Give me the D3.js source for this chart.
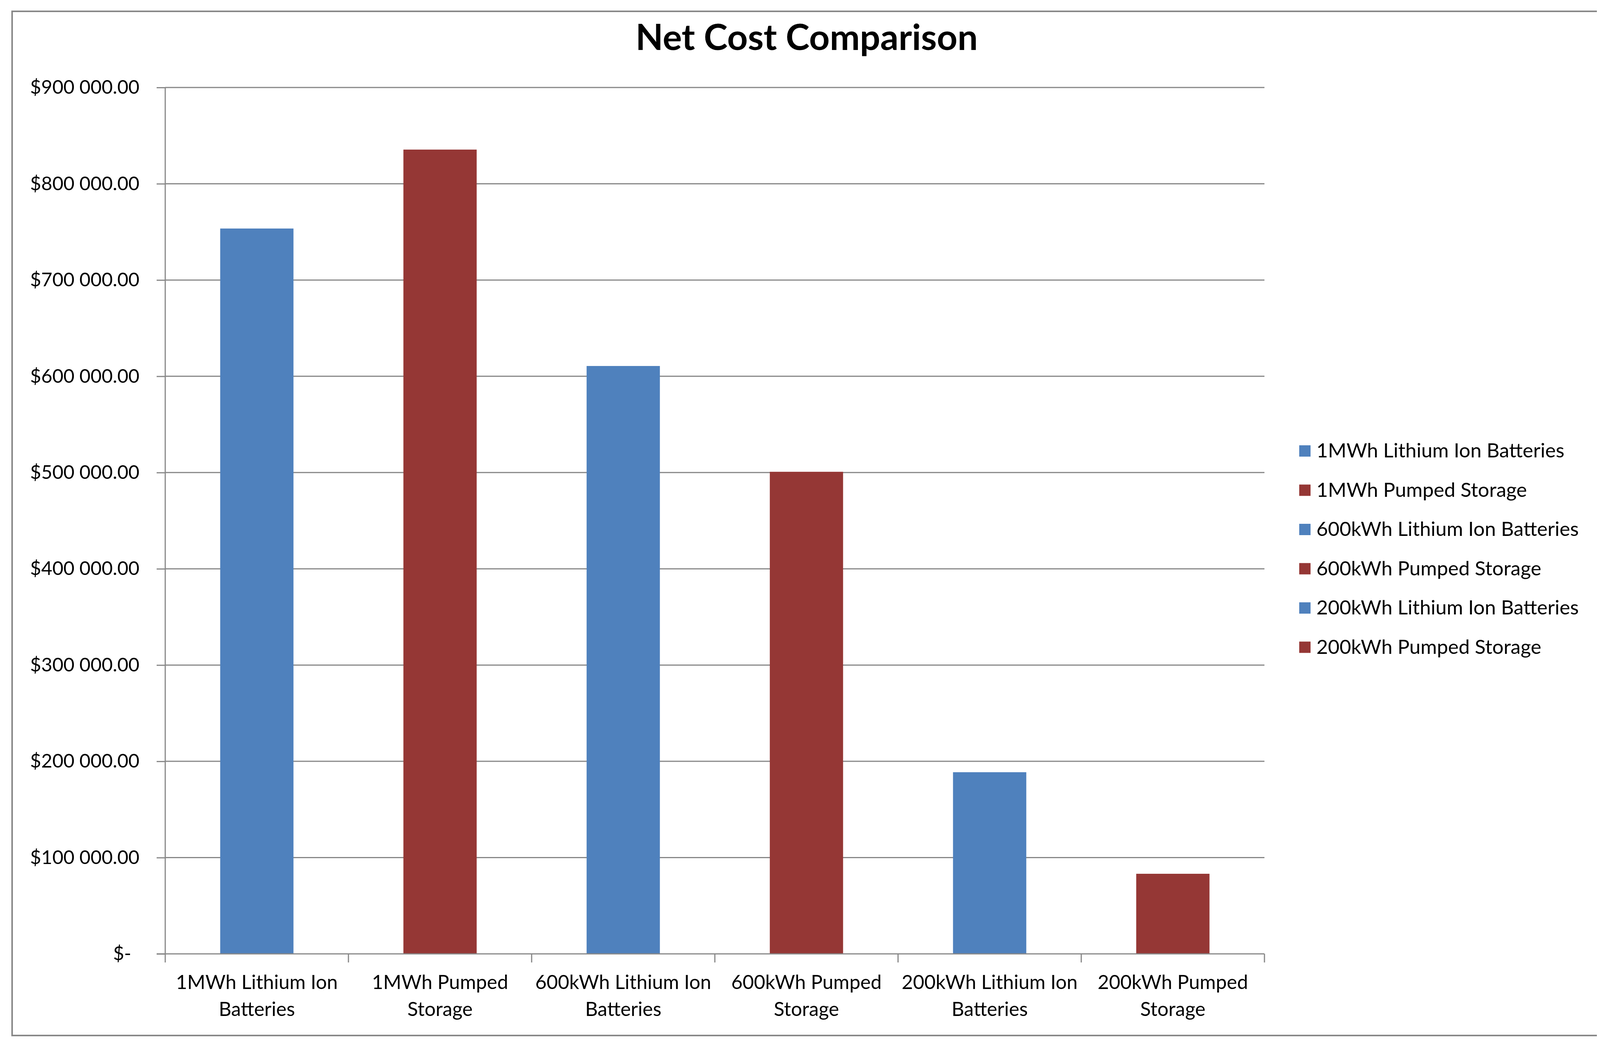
<!DOCTYPE html>
<html>
<head>
<meta charset="utf-8">
<script src="https://cdn.jsdelivr.net/npm/d3@7"></script>
<style>
  html, body { margin: 0; padding: 0; background: #fff; }
  svg { display: block; }
  text { font-family: Lato, "Open Sans", sans-serif; fill: #000; }
</style>
</head>
<body>
<script>
// ---- data ----
const categories = [
  "1MWh Lithium Ion Batteries",
  "1MWh Pumped Storage",
  "600kWh Lithium Ion Batteries",
  "600kWh Pumped Storage",
  "200kWh Lithium Ion Batteries",
  "200kWh Pumped Storage"
];
const categoryLines = [
  ["1MWh Lithium Ion", "Batteries"],
  ["1MWh Pumped", "Storage"],
  ["600kWh Lithium Ion", "Batteries"],
  ["600kWh Pumped", "Storage"],
  ["200kWh Lithium Ion", "Batteries"],
  ["200kWh Pumped", "Storage"]
];
const values = [753500, 835500, 610700, 500800, 188700, 83200];
const seriesType = ["li", "ps", "li", "ps", "li", "ps"];
const yTicks = [0, 100000, 200000, 300000, 400000, 500000, 600000, 700000, 800000, 900000];
const yTickLabels = ["$-", "$100 000.00", "$200 000.00", "$300 000.00", "$400 000.00",
  "$500 000.00", "$600 000.00", "$700 000.00", "$800 000.00", "$900 000.00"];
const colors = { li: "#4F81BD", ps: "#953735" };
const title = "Net Cost Comparison";

// ---- layout ----
const W = 4115, H = 2683;
const plot = { left: 423, right: 3237, top: 224, bottom: 2442 };

const svg = d3.select("body").append("svg")
  .attr("width", W).attr("height", H);

svg.append("rect").attr("width", W).attr("height", H).attr("fill", "#fff");

// outer frame (left, top, bottom)
const frame = svg.append("g").attr("stroke", "#888").attr("stroke-width", 4).attr("fill", "none");
frame.append("path").attr("d", `M4088,29 H31 V2651 H4088`);

// title
svg.append("text")
  .attr("x", 2065).attr("y", 128)
  .attr("text-anchor", "middle")
  .attr("font-weight", "bold")
  .attr("font-size", 92)
  .text(title);

const x = d3.scaleBand().domain(categories).range([plot.left, plot.right]).padding(0);
const barW = x.bandwidth() / 2.5;
const y = d3.scaleLinear().domain([0, 900000]).range([plot.bottom, plot.top]);

// gridlines
svg.append("g")
  .selectAll("line").data(yTicks.filter(d => d > 0)).join("line")
  .attr("x1", plot.left).attr("x2", plot.right)
  .attr("y1", d => y(d)).attr("y2", d => y(d))
  .attr("stroke", "#878787").attr("stroke-width", 3);

// bars
svg.append("g")
  .selectAll("rect").data(values).join("rect")
  .attr("x", (d, i) => x(categories[i]) + (x.bandwidth() - barW) / 2)
  .attr("width", barW)
  .attr("y", d => y(d))
  .attr("height", d => y(0) - y(d))
  .attr("fill", (d, i) => colors[seriesType[i]]);

// y axis
const yAxis = d3.axisLeft(y).tickValues(yTicks).tickSize(22).tickPadding(44)
  .tickFormat((d, i) => yTickLabels[i]);
const yg = svg.append("g").attr("transform", `translate(${plot.left},0)`).call(yAxis);
yg.select(".domain").attr("stroke", "#878787").attr("stroke-width", 3)
  .attr("d", `M0,${plot.top}V${plot.bottom + 22}`);
yg.selectAll(".tick line").attr("stroke", "#878787").attr("stroke-width", 3);
yg.selectAll(".tick text").attr("font-size", 49).attr("font-family", "Lato, 'Open Sans', sans-serif")
  .attr("fill", "#000");
yg.selectAll(".tick").filter(d => d === 0).select("text").attr("dx", -21);

// x axis
const xg = svg.append("g").attr("transform", `translate(0,${plot.bottom})`);
xg.append("line").attr("x1", plot.left - 22).attr("x2", plot.right)
  .attr("stroke", "#878787").attr("stroke-width", 3);
const tickPos = categories.map(c => x(c) + x.bandwidth());
xg.selectAll("line.tk").data(tickPos).join("line").attr("class", "tk")
  .attr("x1", d => d).attr("x2", d => d).attr("y1", 0).attr("y2", 22)
  .attr("stroke", "#878787").attr("stroke-width", 3);
const lbl = xg.selectAll("text.cat").data(categoryLines).join("text").attr("class", "cat")
  .attr("text-anchor", "middle").attr("font-size", 50)
  .attr("transform", (d, i) => `translate(${x(categories[i]) + x.bandwidth() / 2},0)`);
lbl.selectAll("tspan").data(d => d).join("tspan")
  .attr("x", 0).attr("y", (d, j) => 90 + j * 69)
  .text(d => d);

// legend
const legend = svg.append("g");
const legItems = legend.selectAll("g").data(categories).join("g")
  .attr("transform", (d, i) => `translate(3326,${1154 + i * 100.5})`);
legItems.append("rect").attr("x", 0).attr("y", -14).attr("width", 29).attr("height", 29)
  .attr("fill", (d, i) => colors[seriesType[i]]);
legItems.append("text").attr("x", 44).attr("y", 17).attr("font-size", 51)
  .text(d => d);
</script>
</body>
</html>
